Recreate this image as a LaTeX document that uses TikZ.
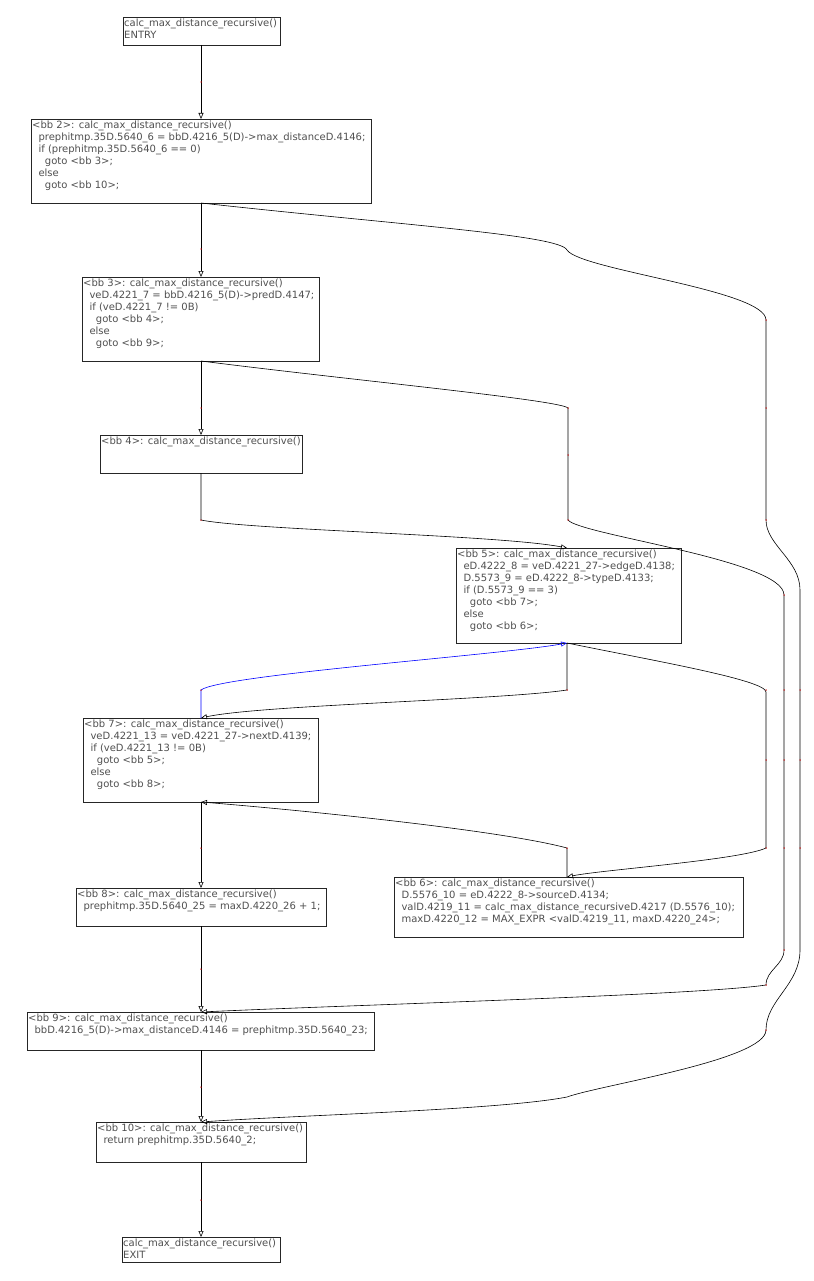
\documentclass[tikz,border=0pt]{standalone}
\usepackage{fontspec}
\setmainfont{DejaVu Sans}
\usetikzlibrary{arrows.meta}
\definecolor{txt}{HTML}{505050}
\tikzset{
  bb/.style={draw=black!85, line width=0.6pt, anchor=north west, inner sep=0pt},
  tx/.style={anchor=north west, inner sep=0pt, align=left, text=txt, font=\fontsize{10}{12}\selectfont},
  ed/.style={draw=black, line width=0.6pt, -{Triangle[open,length=6pt,width=5pt]}},
  dot/.style={fill=red!80!black, inner sep=0pt, minimum size=1.5pt, circle}
}
\newcommand{\bx}[6]{% name, x1,y1,x2,y2, text
  \node[bb, minimum width=#4-#2, minimum height=#5-#3] (#1) at (#2,#3) {};
  \node[tx] (#1t) at (#2+1,#3+2) {#6};
}
\begin{document}
\begin{tikzpicture}[x=1pt,y=-1pt]
\useasboundingbox[fill=white] (0,0) rectangle (813,1281);
\bx{entry}{123}{17}{280}{45}{calc\_max\_distance\_recursive()\\ENTRY}
\bx{b2}{31}{119}{371}{203}{<bb 2>: calc\_max\_distance\_recursive()\\
\ \ prephitmp.35D.5640\_6 = bbD.4216\_5(D)->max\_distanceD.4146;\\
\ \ if (prephitmp.35D.5640\_6 == 0)\\
\ \ \ \ goto <bb 3>;\\
\ \ else\\
\ \ \ \ goto <bb 10>;}
\bx{b3}{82}{277}{319}{361}{<bb 3>: calc\_max\_distance\_recursive()\\
\ \ veD.4221\_7 = bbD.4216\_5(D)->predD.4147;\\
\ \ if (veD.4221\_7 != 0B)\\
\ \ \ \ goto <bb 4>;\\
\ \ else\\
\ \ \ \ goto <bb 9>;}
\bx{b4}{100}{435}{302}{473}{<bb 4>: calc\_max\_distance\_recursive()}
\bx{b5}{456}{548}{681}{643}{<bb 5>: calc\_max\_distance\_recursive()\\
\ \ eD.4222\_8 = veD.4221\_27->edgeD.4138;\\
\ \ D.5573\_9 = eD.4222\_8->typeD.4133;\\
\ \ if (D.5573\_9 == 3)\\
\ \ \ \ goto <bb 7>;\\
\ \ else\\
\ \ \ \ goto <bb 6>;}
\bx{b7}{83}{718}{318}{802}{<bb 7>: calc\_max\_distance\_recursive()\\
\ \ veD.4221\_13 = veD.4221\_27->nextD.4139;\\
\ \ if (veD.4221\_13 != 0B)\\
\ \ \ \ goto <bb 5>;\\
\ \ else\\
\ \ \ \ goto <bb 8>;}
\bx{b8}{76}{888}{326}{926}{<bb 8>: calc\_max\_distance\_recursive()\\
\ \ prephitmp.35D.5640\_25 = maxD.4220\_26 + 1;}
\bx{b6}{394}{877}{743}{937}{<bb 6>: calc\_max\_distance\_recursive()\\
\ \ D.5576\_10 = eD.4222\_8->sourceD.4134;\\
\ \ valD.4219\_11 = calc\_max\_distance\_recursiveD.4217 (D.5576\_10);\\
\ \ maxD.4220\_12 = MAX\_EXPR <valD.4219\_11, maxD.4220\_24>;}
\bx{b9}{27}{1012}{374}{1050}{<bb 9>: calc\_max\_distance\_recursive()\\
\ \ bbD.4216\_5(D)->max\_distanceD.4146 = prephitmp.35D.5640\_23;}
\bx{b10}{96}{1122}{306}{1162}{<bb 10>: calc\_max\_distance\_recursive()\\
\ \ return prephitmp.35D.5640\_2;}
\bx{exit}{122}{1237}{280}{1262}{calc\_max\_distance\_recursive()\\EXIT}
% anchor coordinates
\coordinate (e0) at (201,45);   \coordinate (b2in) at (201,119);
\coordinate (b2o) at (201,203); \coordinate (b3in) at (201,277);
\coordinate (b3o) at (201,361); \coordinate (b4in) at (201,435);
\coordinate (b4o) at (201,473); \coordinate (b5in) at (567,548);
\coordinate (b5o) at (567,643); \coordinate (b7in) at (201,718);
\coordinate (b7o) at (201,802); \coordinate (b8in) at (201,888);
\coordinate (b6in) at (567,877);
\coordinate (b8o) at (201,926); \coordinate (b9in) at (201,1012);
\coordinate (b9o) at (201,1050); \coordinate (b10in) at (201,1122);
\coordinate (b10o) at (201,1162); \coordinate (exin) at (201,1237);
% straight edges
\draw[ed] (e0) -- (b2in);
\draw[ed] (b2o) -- (b3in);
\draw[ed] (b3o) -- (b4in);
\draw[ed] (b7o) -- (b8in);
\draw[ed] (b8o) -- (b9in);
\draw[ed] (b9o) -- (b10in);
\draw[ed] (b10o) -- (exin);
% bb2 -> bb10
\draw[ed] (b2o) .. controls (400,225) and (560,235) .. (567,250) .. controls (580,270) and (766,290) .. (766,320)
  -- (766,520) .. controls (766,545) and (800,560) .. (800,590) -- (800,950)
  .. controls (800,985) and (766,1000) .. (766,1030) .. controls (766,1060) and (600,1085) .. (567,1097)
  .. controls (500,1110) and (300,1115) .. (b10in);
% bb3 -> bb9
\draw[ed] (b3o) .. controls (350,380) and (560,400) .. (568,408) -- (568,520)
  .. controls (580,535) and (784,560) .. (784,595) -- (784,950)
  .. controls (784,965) and (766,970) .. (766,985) .. controls (700,995) and (350,1005) .. (b9in);
% bb4 -> bb5
\draw[ed] (b4o) -- (201,520) .. controls (250,530) and (500,535) .. (b5in);
% bb5 -> bb7
\draw[ed] (b5o) -- (567,690) .. controls (500,700) and (260,705) .. (b7in);
% bb7 -> bb5 (blue)
\draw[ed, draw=blue] (b7in) -- (201,690) .. controls (220,675) and (500,655) .. (b5o);
% bb5 -> bb6
\draw[ed] (b5o) .. controls (650,660) and (766,680) .. (766,692) -- (766,848) .. controls (740,860) and (600,870) .. (b6in);
% bb6 -> bb7
\draw[ed] (b6in) -- (567,848) .. controls (500,830) and (300,810) .. (b7o);
% red dots
\foreach \p in {(201,82),(201,249),(201,408),(201,520),(201,690),(567,690),(201,848),(567,848),(201,969),(201,1087),(201,1200),
  (766,320),(766,408),(766,520),(568,408),(568,455),(568,520),(784,595),(784,690),(784,760),(784,848),(784,950),
  (766,690),(766,760),(766,848),(766,985),(800,690),(800,760),(800,848),(766,1030)}
  \node[dot] at \p {};
\end{tikzpicture}
\end{document}
